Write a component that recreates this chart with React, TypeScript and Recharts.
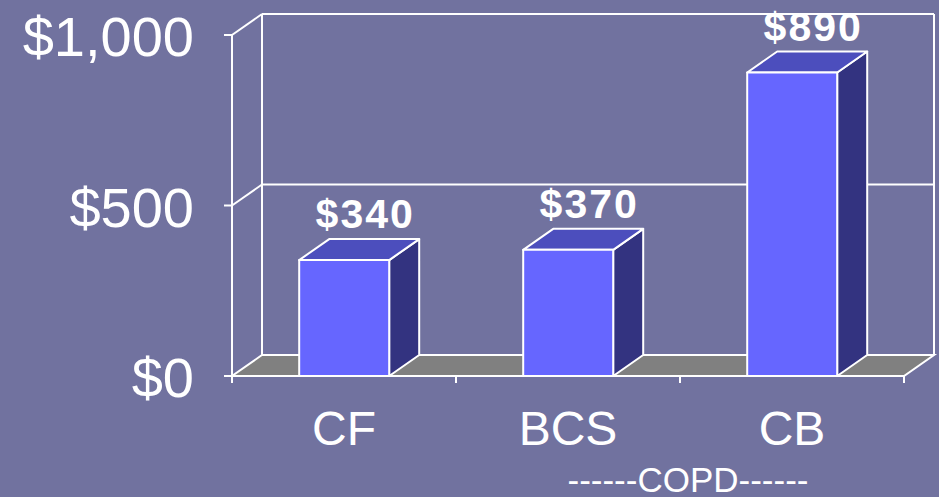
import { BarChart, Bar, XAxis, YAxis, CartesianGrid, LabelList, Label } from "recharts";

const categories = ["CF", "BCS", "CB"];
const costs = [340, 370, 890];
const yTicks = [0, 500, 1000];
const groupLabel = "------COPD------";

const data = categories.map((name, i) => ({ name, cost: costs[i] }));

// depth of the fake 3D box
const DX = 30;
const DY = -21;

const BG = "#71729F";
const FONT = "'Liberation Sans', Arial, sans-serif";

const money = (v: number) => "$" + v.toLocaleString("en-US");

function GridLine(p: any) {
  const { x1, x2, y1, index } = p;
  const top = p.y;
  const bottom = p.y + p.height;
  const isBottom = Math.abs(y1 - bottom) < 1;
  const isTop = Math.abs(y1 - top) < 1;
  const n = categories.length;
  return (
    <g key={`grid-${index}`}>
      {isBottom && (
        <>
          <polygon
            points={`${x1},${y1} ${x2},${y1} ${x2 + DX},${y1 + DY} ${x1 + DX},${y1 + DY}`}
            fill="#808080"
            stroke="#fff"
            strokeWidth={2}
          />
          {Array.from({ length: n + 1 }, (_, i) => {
            const tx = x1 + ((x2 - x1) * i) / n;
            return <line key={i} x1={tx} x2={tx} y1={y1} y2={y1 + 7} stroke="#fff" strokeWidth={2} />;
          })}
        </>
      )}
      {isTop && (
        <>
          <line x1={x1 + DX} x2={x1 + DX} y1={top + DY} y2={bottom + DY} stroke="#fff" strokeWidth={2} />
          <line x1={x2 + DX} x2={x2 + DX} y1={top + DY} y2={bottom + DY} stroke="#fff" strokeWidth={2} />
        </>
      )}
      {!isBottom && (
        <>
          <line x1={x1 + DX} x2={x2 + DX} y1={y1 + DY} y2={y1 + DY} stroke="#fff" strokeWidth={2} />
          <line x1={x1} x2={x1 + DX} y1={y1} y2={y1 + DY} stroke="#fff" strokeWidth={2} />
        </>
      )}
    </g>
  );
}

function Bar3D(p: any) {
  const { x, y, width: w, height: h } = p;
  if (h == null || w == null) return null;
  return (
    <g stroke="#fff" strokeWidth={2} strokeLinejoin="round">
      <polygon
        points={`${x + w},${y} ${x + w + DX},${y + DY} ${x + w + DX},${y + h + DY} ${x + w},${y + h}`}
        fill="#333380"
      />
      <polygon
        points={`${x},${y} ${x + w},${y} ${x + w + DX},${y + DY} ${x + DX},${y + DY}`}
        fill="#4C4EBD"
      />
      <rect x={x} y={y} width={w} height={h} fill="#6666FF" />
    </g>
  );
}

function YTick(p: any) {
  return (
    <text x={p.x} y={p.y + 21} textAnchor="end" fill="#fff" fontSize={56} fontFamily={FONT}>
      {money(p.payload.value)}
    </text>
  );
}

function CatTick(p: any) {
  return (
    <text x={p.x} y={p.y + 69} textAnchor="middle" fill="#fff" fontSize={48} fontFamily={FONT}>
      {p.payload.value}
    </text>
  );
}

function ValueLabel(p: any) {
  const { x, y, width, value } = p;
  return (
    <text
      x={x + width / 2 + 21}
      y={y - 32}
      textAnchor="middle"
      fill="#fff"
      fontSize={41}
      fontWeight="bold"
      letterSpacing={2}
      fontFamily={FONT}
    >
      {money(value)}
    </text>
  );
}

function GroupLabel(p: any) {
  const vb = p.viewBox;
  return (
    <text
      x={vb.x + (vb.width * 2) / 3 + 8}
      y={vb.y + 116}
      textAnchor="middle"
      fill="#fff"
      fontSize={35}
      fontFamily={FONT}
    >
      {groupLabel}
    </text>
  );
}

export default function App() {
  return (
    <div style={{ position: "absolute", left: 0, top: 0, width: 939, height: 497, background: BG }}>
      <BarChart
        width={939}
        height={497}
        data={data}
        margin={{ top: 35, right: 35, left: 0, bottom: 0 }}
        barCategoryGap="30%"
      >
        <CartesianGrid vertical={false} horizontal={GridLine} stroke="#fff" />
        <XAxis
          dataKey="name"
          height={121}
          axisLine={{ stroke: "#fff", strokeWidth: 2 }}
          tickLine={false}
          tickSize={0}
          tickMargin={0}
          tick={CatTick}
        >
          <Label content={GroupLabel} />
        </XAxis>
        <YAxis
          width={232}
          domain={[0, 1000]}
          ticks={yTicks}
          interval={0}
          axisLine={{ stroke: "#fff", strokeWidth: 2 }}
          tickLine={{ stroke: "#fff", strokeWidth: 2 }}
          tickSize={8}
          tickMargin={30}
          tick={YTick}
        />
        <Bar dataKey="cost" isAnimationActive={false} shape={Bar3D}>
          <LabelList dataKey="cost" content={ValueLabel} />
        </Bar>
      </BarChart>
    </div>
  );
}
